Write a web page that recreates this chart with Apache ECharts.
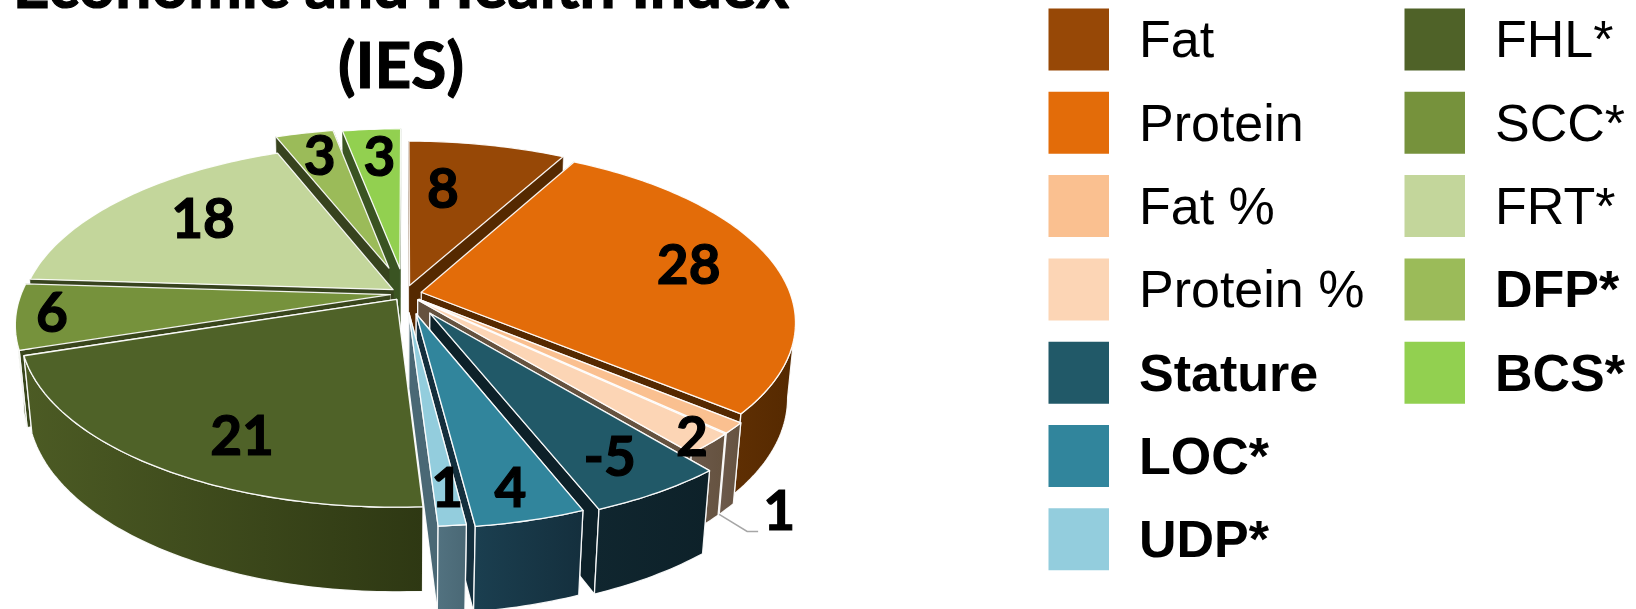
<!DOCTYPE html>
<html>
<head>
<meta charset="utf-8">
<style>html,body{margin:0;padding:0;background:#fff}#c{width:1636px;height:609px}</style>
<script src="https://cdn.jsdelivr.net/npm/echarts@6/dist/echarts.min.js"></script>
</head>
<body>
<div id="c"></div>
<script>
// ---- data ----
const categories = ['Fat','Protein','Fat %','Protein %','Stature','LOC*','UDP*','FHL*','SCC*','FRT*','DFP*','BCS*'];
const seriesValues = [8,28,1,2,-5,4,1,21,6,18,3,3];
const boldLegend = [false,false,false,false,true,true,true,false,false,false,true,true];
const titleLines = ['Economic and Health Index','(IES)'];
// ---- styling ----
const topColors = ['#974806','#e36c09','#fac090','#fcd5b5','#215968','#31859c','#93cddd','#4f6228','#76923c','#c3d69b','#9bbb59','#92d050'];
const wallLight = ['#5f2f03','#5f2f03','#6d5a4c','#6d5a4c','#10262f','#1b3f50','#527280','#4c5b24','#4f6128','#4a5a2c','#47582a','#48682c'];
const wallDark  = ['#552900','#552900','#65523f','#65523f','#0d2129','#142f3d','#4a6875','#2e3813','#39461c','#37431e','#37431e','#3a5422'];
const explode = [.05,.045,.05,.05,.13,.12,.11,.04,.04,.04,.16,.15];
const labelDeg = [9.7,78.4,141.6,137.3,150.1,166,174.3,207.7,262.7,308,343.8,355];
const labelRad = [.68,.806,1.345,1.005,.958,.991,.967,.833,.945,.748,.955,.92];
// ---- projection of the tilted pie ----
const CX=405, CY=293.7, RX=369, RY=171, PERSP=.167, PERSP_Z=.02, DEPTH=76;
const FRONT_FROM=99.6, FRONT_TO=260.4; // part of the rim whose outer wall faces the viewer
function project(u,v,z){
  const w = 1 - PERSP*v + PERSP_Z*z;
  return [CX + RX*u/w, CY + (RY*v + DEPTH*z)/w];
}
const rad = d => d*Math.PI/180;
const total = seriesValues.reduce((s,x)=>s+Math.abs(x),0);
let acc = 0;
const slices = seriesValues.map((x,i)=>{
  const a0 = acc/total*360; acc += Math.abs(x); const a1 = acc/total*360;
  const mid = (a0+a1)/2;
  return {a0,a1,mid,eu:explode[i]*Math.sin(rad(mid)),ev:-explode[i]*Math.cos(rad(mid))};
});
function rim(s,a){return [Math.sin(rad(a))+s.eu,-Math.cos(rad(a))+s.ev];}
function arcPts(s,from,to){const p=[];const n=Math.max(2,Math.ceil(to-from));for(let k=0;k<=n;k++)p.push(rim(s,from+(to-from)*k/n));return p;}
function frontKey(s){return rim(s,s.mid)[1]+s.ev;}
const isFront = a => a>=FRONT_FROM && a<=FRONT_TO;
const drawOrder = slices.map((s,i)=>i).sort((a,b)=>frontKey(slices[a])-frontKey(slices[b]));
const EDGE='rgba(255,255,255,.92)';
function poly(points,fill,edged){return {type:'polygon',shape:{points},style:{fill,stroke:edged?EDGE:fill,lineWidth:edged?1.3:.5,lineJoin:'round'}};}
function renderSlice(params,api){
  const i=api.value(0), s=slices[i];
  const P=(p,z)=>project(p[0],p[1],z);
  const top=arcPts(s,s.a0,s.a1).map(p=>P(p,0));
  const A0=project(s.eu,s.ev,0), A1=project(s.eu,s.ev,1);
  const c0=rim(s,s.a0), c1=rim(s,s.a1);
  const kids=[
    poly([A0,P(c0,0),P(c0,1),A1],wallDark[i],isFront(s.a0)),
    poly([A0,P(c1,0),P(c1,1),A1],wallDark[i],isFront(s.a1))
  ];
  const from=Math.max(s.a0,FRONT_FROM), to=Math.min(s.a1,FRONT_TO);
  if(to>from){
    const pts=arcPts(s,from,to);
    const grad=new echarts.graphic.LinearGradient(0,0,1,0,[{offset:0,color:wallLight[i]},{offset:1,color:wallDark[i]}]);
    kids.push({type:'polygon',shape:{points:pts.map(p=>P(p,0)).concat(pts.map(p=>P(p,1)).reverse())},style:{fill:grad,stroke:EDGE,lineWidth:1.3,lineJoin:'round'}});
  }
  kids.push(poly([A0].concat(top),topColors[i],true));
  return {type:'group',children:kids};
}
function renderLabel(params,api){
  const i=api.value(0), a=rad(labelDeg[i]), r=labelRad[i];
  const p=project(r*Math.sin(a),-r*Math.cos(a),0);
  const kids=[{type:'text',x:p[0],y:p[1],style:{text:String(seriesValues[i]),font:'bold 55px Lato',fill:'#000',stroke:'#000',lineWidth:1.2,align:'center',verticalAlign:'middle'},z2:5}];
  if(labelRad[i]>1.2){
    const s=slices[i], m=rim(s,s.a1), st=project(m[0],m[1],1);
    kids.push({type:'polyline',shape:{points:[st,[p[0]-32,p[1]+19],[p[0]-21,p[1]+19]]},style:{fill:null,stroke:'#a6a6a6',lineWidth:1.5},z2:1});
  }
  return {type:'group',children:kids};
}
// ---- legend, two columns of rows ----
const LEG_ROWS=7, LEG_X=[1048.5,1404.5], LEG_TX=[1139,1495], LEG_Y=8.5, LEG_STEP=83.3, SW=60.5, SH=62, TXT_DY=3.5;
function renderLegend(params,api){
  const i=api.value(0), col=i<LEG_ROWS?0:1, row=col?i-LEG_ROWS:i;
  const y=LEG_Y+row*LEG_STEP;
  return {type:'group',children:[
    {type:'rect',shape:{x:LEG_X[col],y,width:SW,height:SH},style:{fill:topColors[i]}},
    {type:'text',x:LEG_TX[col],y:y+SH/2+TXT_DY,style:{text:categories[i],font:(boldLegend[i]?'bold ':'')+'52px "Liberation Sans"',fill:'#000',align:'left',verticalAlign:'middle'}}
  ]};
}
const chart=echarts.init(document.getElementById('c'),null,{renderer:'canvas'});
chart.setOption({
  animation:false,
  backgroundColor:'#fff',
  title:{text:titleLines.join('\n'),left:396,top:-58,textAlign:'center',textStyle:{fontFamily:'Lato',fontWeight:'bold',fontSize:64,lineHeight:80,color:'#000',textBorderColor:'#000',textBorderWidth:1.2}},
  series:[
    {type:'custom',name:'pie',coordinateSystem:'none',silent:true,z:2,renderItem:renderSlice,data:drawOrder.map(i=>[i,Math.abs(seriesValues[i])])},
    {type:'custom',name:'labels',coordinateSystem:'none',silent:true,z:3,renderItem:renderLabel,data:seriesValues.map((x,i)=>[i,x])},
    {type:'custom',name:'legend',coordinateSystem:'none',silent:true,z:3,renderItem:renderLegend,data:categories.map((c,i)=>[i])}
  ]
});
</script>
</body>
</html>
